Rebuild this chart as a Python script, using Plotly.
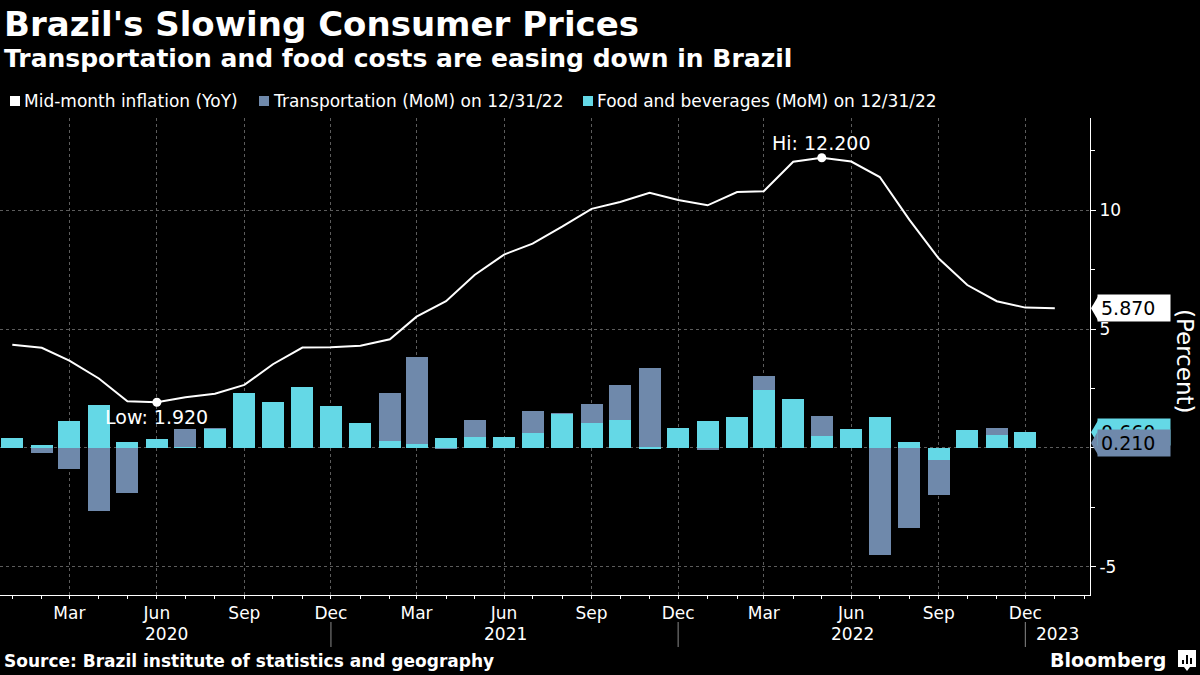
import pandas as pd
import plotly.graph_objects as go

# ---------------- data ----------------
bar_months = pd.date_range("2020-01-01", "2022-12-01", freq="MS")
line_months = pd.date_range("2020-01-01", "2023-01-01", freq="MS")

inflation_yoy = [4.34, 4.21, 3.67, 2.92, 1.96, 1.92, 2.13, 2.28, 2.65, 3.52, 4.22, 4.23,
                 4.30, 4.57, 5.52, 6.17, 7.27, 8.13, 8.59, 9.30, 10.05, 10.34, 10.73, 10.42,
                 10.20, 10.76, 10.79, 12.03, 12.20, 12.04, 11.39, 9.60, 7.96, 6.85, 6.17, 5.90,
                 5.87]

transportation_mom = [0.20, -0.21, -0.88, -2.65, -1.89, 0.10, 0.80, 0.84, 0.60, 1.20, 1.00, 1.20,
                      0.70, 2.31, 3.82, -0.05, 1.18, 0.30, 1.55, 1.46, 1.85, 2.64, 3.36, 0.30,
                      -0.08, 0.50, 3.02, 1.50, 1.34, 0.60, -4.50, -3.36, -1.97, 0.50, 0.82, 0.21]

food_mom = [0.42, 0.13, 1.15, 1.81, 0.25, 0.38, 0.04, 0.80, 2.31, 1.93, 2.56, 1.76,
            1.05, 0.29, 0.17, 0.42, 0.46, 0.46, 0.63, 1.43, 1.05, 1.18, -0.04, 0.84,
            1.13, 1.31, 2.44, 2.06, 0.50, 0.80, 1.31, 0.25, -0.50, 0.76, 0.55, 0.66]

tick_dates = pd.date_range("2020-03-01", "2022-12-01", freq="3MS")
tick_labels = ["Mar", "Jun", "Sep", "Dec"] * 3
year_labels = ["2020", "2021", "2022", "2023"]
year_separators = ["2020-12-01", "2021-12-01", "2022-12-01"]

names = ["Mid-month inflation (YoY)", "Transportation (MoM) on 12/31/22",
         "Food and beverages (MoM) on 12/31/22"]

# ---------------- style ----------------
BG = "#000000"
WHITE = "#ffffff"
SLATE = "#6f89ab"
CYAN = "#64d8e6"
GRID = "#5c5c5c"
FONT = "DejaVu Sans"

W, H = 1200, 675
L, R, T, B = 0, 110, 118, 80
PW, PH = W - L - R, H - T - B


def px_x(p):
    return (p - L) / PW


def px_y(p):
    return (H - B - p) / PH


fig = go.Figure()
fig.add_trace(go.Bar(x=bar_months, y=transportation_mom, name=names[1],
                     marker=dict(color=SLATE, line_width=0), width=2.0e9, showlegend=False))
fig.add_trace(go.Bar(x=bar_months, y=food_mom, name=names[2],
                     marker=dict(color=CYAN, line_width=0), width=2.0e9, showlegend=False))
fig.add_trace(go.Scatter(x=line_months, y=inflation_yoy, name=names[0], mode="lines",
                         line=dict(color=WHITE, width=2), showlegend=False))

i_hi = inflation_yoy.index(max(inflation_yoy))
i_lo = inflation_yoy.index(min(inflation_yoy))
fig.add_trace(go.Scatter(x=[line_months[i_hi], line_months[i_lo]],
                         y=[inflation_yoy[i_hi], inflation_yoy[i_lo]],
                         mode="markers", marker=dict(color=WHITE, size=9),
                         showlegend=False, hoverinfo="skip"))

annotations = []
shapes = []

# titles
annotations.append(dict(text="<b>Brazil's Slowing Consumer Prices</b>", xref="paper", yref="paper",
                        x=px_x(2), y=px_y(24), xanchor="left", yanchor="middle", showarrow=False,
                        font=dict(family=FONT, size=34, color=WHITE)))
annotations.append(dict(text="<b>Transportation and food costs are easing down in Brazil</b>",
                        xref="paper", yref="paper", x=px_x(2), y=px_y(59), xanchor="left",
                        yanchor="middle", showarrow=False,
                        font=dict(family=FONT, size=25, color=WHITE)))

# legend
legend_pos = [(10, WHITE), (259, SLATE), (583, CYAN)]
for (lx, col), nm in zip(legend_pos, names):
    shapes.append(dict(type="rect", xref="paper", yref="paper", x0=px_x(lx), x1=px_x(lx + 10),
                       y0=px_y(106), y1=px_y(96), fillcolor=col, line_width=0))
    annotations.append(dict(text=nm, xref="paper", yref="paper", x=px_x(lx + 12), y=px_y(101),
                            xanchor="left", yanchor="middle", showarrow=False,
                            font=dict(family=FONT, size=17, color=WHITE)))

# source + brand
annotations.append(dict(text="<b>Source: Brazil institute of statistics and geography</b>",
                        xref="paper", yref="paper", x=px_x(2), y=px_y(661), xanchor="left",
                        yanchor="middle", showarrow=False,
                        font=dict(family=FONT, size=17, color=WHITE)))
annotations.append(dict(text="<b>Bloomberg</b>", xref="paper", yref="paper", x=px_x(1168),
                        y=px_y(660), xanchor="right", yanchor="middle", showarrow=False,
                        font=dict(family=FONT, size=19, color=WHITE)))
shapes.append(dict(type="path", xref="paper", yref="paper", fillcolor=WHITE, line_width=0,
                   path=f"M{px_x(1178)},{px_y(650)} L{px_x(1196)},{px_y(650)} L{px_x(1196)},{px_y(667)} "
                        f"L{px_x(1190)},{px_y(667)} L{px_x(1187)},{px_y(671)} L{px_x(1184)},{px_y(667)} "
                        f"L{px_x(1178)},{px_y(667)} Z"))
for bx, btop in [(1182, 660), (1186, 655), (1190, 658)]:
    shapes.append(dict(type="rect", xref="paper", yref="paper", x0=px_x(bx), x1=px_x(bx + 2),
                       y0=px_y(664), y1=px_y(btop), fillcolor=BG, line_width=0))

# year labels and separators
for lab, cx in zip(year_labels, [166, 505, 852, 1057]):
    annotations.append(dict(text=lab, xref="paper", yref="paper", x=px_x(cx), y=px_y(634),
                            xanchor="center", yanchor="middle", showarrow=False,
                            font=dict(family=FONT, size=17, color=WHITE)))
for d in year_separators:
    shapes.append(dict(type="line", xref="x", yref="paper", x0=d, x1=d, y0=px_y(622),
                       y1=px_y(647), line=dict(color="#8a8a8a", width=1)))

# hi / low labels
annotations.append(dict(text=f"Hi: {inflation_yoy[i_hi]:.3f}", x=line_months[i_hi],
                        y=inflation_yoy[i_hi], xref="x", yref="y", yshift=15, showarrow=False,
                        xanchor="center", yanchor="middle",
                        font=dict(family=FONT, size=19, color=WHITE)))
annotations.append(dict(text=f"Low: {inflation_yoy[i_lo]:.3f}", x=line_months[i_lo],
                        y=inflation_yoy[i_lo], xref="x", yref="y", yshift=-15, showarrow=False,
                        xanchor="center", yanchor="middle",
                        font=dict(family=FONT, size=19, color=WHITE)))

# right-side last value labels
last_labels = [(food_mom[-1], CYAN), (transportation_mom[-1], SLATE), (inflation_yoy[-1], WHITE)]
half = 0.5
for val, col in last_labels:
    shapes.append(dict(type="path", xref="paper", yref="y", fillcolor=col, line_width=0,
                       path=f"M{px_x(1091)},{val} L{px_x(1098)},{val + half} "
                            f"L{px_x(1098)},{val - half} Z"))
    annotations.append(dict(text=f"{val:.3f}", xref="paper", yref="y", x=px_x(1097), y=val,
                            xanchor="left", yanchor="middle", showarrow=False, align="left",
                            width=66, height=20, borderpad=3, bgcolor=col,
                            font=dict(family=FONT, size=19, color="#000000")))

annotations.append(dict(text="(Percent)", xref="paper", yref="paper", x=px_x(1185), y=px_y(361),
                        xanchor="center", yanchor="middle", textangle=90, showarrow=False,
                        font=dict(family=FONT, size=23, color=WHITE)))

fig.update_layout(
    width=W, height=H,
    margin=dict(l=L, r=R, t=T, b=B, autoexpand=False),
    paper_bgcolor=BG, plot_bgcolor=BG,
    barmode="overlay", bargap=0,
    showlegend=False,
    font=dict(family=FONT, color=WHITE),
    annotations=annotations,
    shapes=shapes,
    xaxis=dict(
        type="date", range=["2019-12-19 02:00", "2023-02-07"],
        tickmode="array", tickvals=tick_dates, ticktext=tick_labels,
        ticks="outside", ticklen=3, tickcolor=WHITE, tickwidth=1,
        tickfont=dict(family=FONT, size=17, color=WHITE),
        showline=True, linecolor=WHITE, linewidth=1,
        showgrid=True, gridcolor=GRID, griddash="dot", gridwidth=1,
        zeroline=False, automargin=False,
        minor=dict(dtick="M1", tick0="2020-01-01", ticks="outside", ticklen=3,
                   tickcolor=WHITE, showgrid=False),
    ),
    yaxis=dict(
        side="right", range=[-6.18, 13.87],
        tickmode="array", tickvals=[-5, 0, 5, 10], ticktext=["-5", "0", "5", "10"],
        ticks="outside", ticklen=5, tickcolor=WHITE,
        tickfont=dict(family=FONT, size=17, color=WHITE),
        showline=True, linecolor=WHITE, linewidth=1,
        showgrid=True, gridcolor=GRID, griddash="dot", gridwidth=1,
        zeroline=False, automargin=False,
        minor=dict(dtick=2.5, tick0=0, ticks="outside", ticklen=4, tickcolor=WHITE,
                   showgrid=False),
    ),
)

fig.write_html("out.html", config={"displayModeBar": False},
               post_script="document.body.style.margin='0';document.body.style.overflow='hidden';")
